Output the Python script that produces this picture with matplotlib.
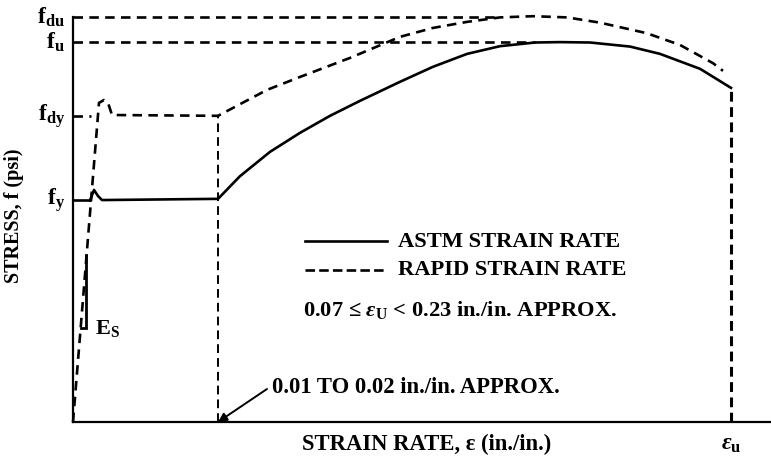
import matplotlib
matplotlib.use("Agg")
import matplotlib.pyplot as plt

plt.rcParams["font.family"] = ["Liberation Serif", "DejaVu Serif"]
plt.rcParams["font.weight"] = "bold"
plt.rcParams["mathtext.fontset"] = "custom"
plt.rcParams["mathtext.rm"] = "Liberation Serif:bold"
plt.rcParams["mathtext.it"] = "Liberation Serif:italic:bold"
plt.rcParams["mathtext.bf"] = "Liberation Serif:bold"

# Strain as a fraction of the ultimate strain eps_u, stress as a fraction of f_du
level_names = [r"$\mathrm{f_{du}}$", r"$\mathrm{f_u}$", r"$\mathrm{f_{dy}}$", r"$\mathrm{f_y}$"]
level_values = [1.0, 0.938, 0.756, 0.547]

# ASTM (static) strain rate curve: yield bump, plateau, strain hardening, ultimate
astm_strain = [0.0258, 0.0319, 0.038, 0.0441, 0.2204, 0.2538, 0.2994, 0.345, 0.3906,
               0.4362, 0.497, 0.547, 0.599, 0.649, 0.702, 0.740, 0.786, 0.8465,
               0.892, 0.953, 1.0]
astm_stress = [0.547, 0.573, 0.558, 0.548, 0.551, 0.607, 0.667, 0.714, 0.756,
               0.793, 0.840, 0.877, 0.909, 0.928, 0.937, 0.938, 0.937, 0.927,
               0.909, 0.872, 0.825]

# Rapid strain rate curve: elastic branch, dynamic yield, plateau, hardening
rapid_strain = [0.0, 0.0395, 0.0471, 0.0532, 0.0593, 0.2204, 0.2948, 0.345, 0.421,
                0.497, 0.547, 0.599, 0.649, 0.699, 0.751, 0.801, 0.872, 0.9225,
                0.9726, 0.9878]
rapid_stress = [0.0, 0.788, 0.795, 0.788, 0.758, 0.756, 0.820, 0.852, 0.899,
                0.951, 0.973, 0.988, 0.999, 1.002, 0.999, 0.986, 0.960, 0.931,
                0.886, 0.867]

eps_sh = 0.2204           # end of the yield plateau
eps_u_end = 1.0           # ultimate strain
f_du_reach = 0.649        # where the f_du guide meets the rapid curve
f_u_reach = 0.702         # where the f_u guide meets the ASTM curve
es_leg_x = [0.0116, 0.0205, 0.0205]
es_leg_y = [0.232, 0.232, 0.412]

W, H = 771, 461
fig = plt.figure(figsize=(W / 100, H / 100), dpi=100)
ax = fig.add_axes([73 / W, (H - 422) / H, (W - 73) / W, 405 / H])
ax.set_xlim(0, (W - 73) / 658)
ax.set_ylim(0, 1.0)


def px_x(p):
    return (p - 73) / 658


def px_y(p):
    return (422 - p) / 405


lw = 1.9
dash = (0, (3.6, 2.4))
ax.plot(astm_strain, astm_stress, color="black", lw=lw, solid_joinstyle="round",
        clip_on=False)
ax.plot(rapid_strain, rapid_stress, color="black", lw=lw, linestyle=dash,
        clip_on=False)

# guide lines from the stress axis
ax.plot([0, f_du_reach], [level_values[0]] * 2, color="black", lw=lw, linestyle=dash,
        clip_on=False)
ax.plot([0, f_u_reach], [level_values[1]] * 2, color="black", lw=lw, linestyle=dash)
ax.plot([0, rapid_strain[1] - 0.012], [level_values[2]] * 2, color="black", lw=lw,
        linestyle=dash)
ax.plot([0, astm_strain[0]], [level_values[3]] * 2, color="black", lw=lw)

# verticals at the end of the plateau and at ultimate strain
ax.plot([eps_sh, eps_sh], [0, rapid_stress[5]], color="black", lw=1.4,
        linestyle=(0, (4.5, 2.6)))
ax.plot([eps_u_end, eps_u_end], [0, astm_stress[-1]], color="black", lw=2.2,
        linestyle=(0, (3.2, 1.8)))

# elastic modulus slope marker
ax.plot(es_leg_x, es_leg_y, color="black", lw=2.0, solid_joinstyle="miter")
ax.text(px_x(95), 0.232, r"E$_\mathrm{S}$", fontsize=16, fontweight="bold",
        ha="left", va="center")

for name, val in zip(level_names, level_values):
    ax.text(-0.012, val, name, fontsize=17, ha="right", va="center")

for side in ("top", "right"):
    ax.spines[side].set_visible(False)
for side in ("left", "bottom"):
    ax.spines[side].set_linewidth(1.6)
ax.set_xticks([])
ax.set_yticks([])

ax.text(eps_u_end, px_y(444), r"$\varepsilon_\mathrm{u}$", fontsize=17, ha="center",
        va="center")
ax.text(px_x(427), px_y(444), "STRAIN RATE, \u03b5 (in./in.)", fontsize=16.3,
        ha="center", va="center")
fig.text(14 / W, 1 - 216 / H, "STRESS, f (psi)", fontsize=14.5, rotation=90,
         ha="center", va="center", fontweight="bold")

# legend drawn as annotations
lx0, lx1 = px_x(305), px_x(387)
ax.plot([lx0, lx1], [px_y(241)] * 2, color="black", lw=1.9)
ax.plot([lx0, lx1], [px_y(270)] * 2, color="black", lw=1.9,
        linestyle=(0, (3.6, 1.6)))
tx = px_x(398)
ax.text(tx, px_y(242), "ASTM STRAIN RATE", fontsize=16.2, ha="left", va="center")
ax.text(tx, px_y(270), "RAPID STRAIN RATE", fontsize=16.2, ha="left", va="center")
ax.text(px_x(303), px_y(310),
        r"0.07 ≤ $\varepsilon_\mathrm{U}$ < 0.23 in./in. APPROX.", fontsize=16.2,
        ha="left", va="center")

ax.text(px_x(272), px_y(387), "0.01 TO 0.02 in./in. APPROX.", fontsize=16.3,
        ha="left", va="center")
ax.annotate("", xy=(eps_sh, 0.0), xytext=(px_x(267), px_y(389)),
            arrowprops=dict(arrowstyle="-|>", color="black", lw=1.4,
                            mutation_scale=13, shrinkA=0, shrinkB=0))

fig.savefig("out.png", dpi=100)
